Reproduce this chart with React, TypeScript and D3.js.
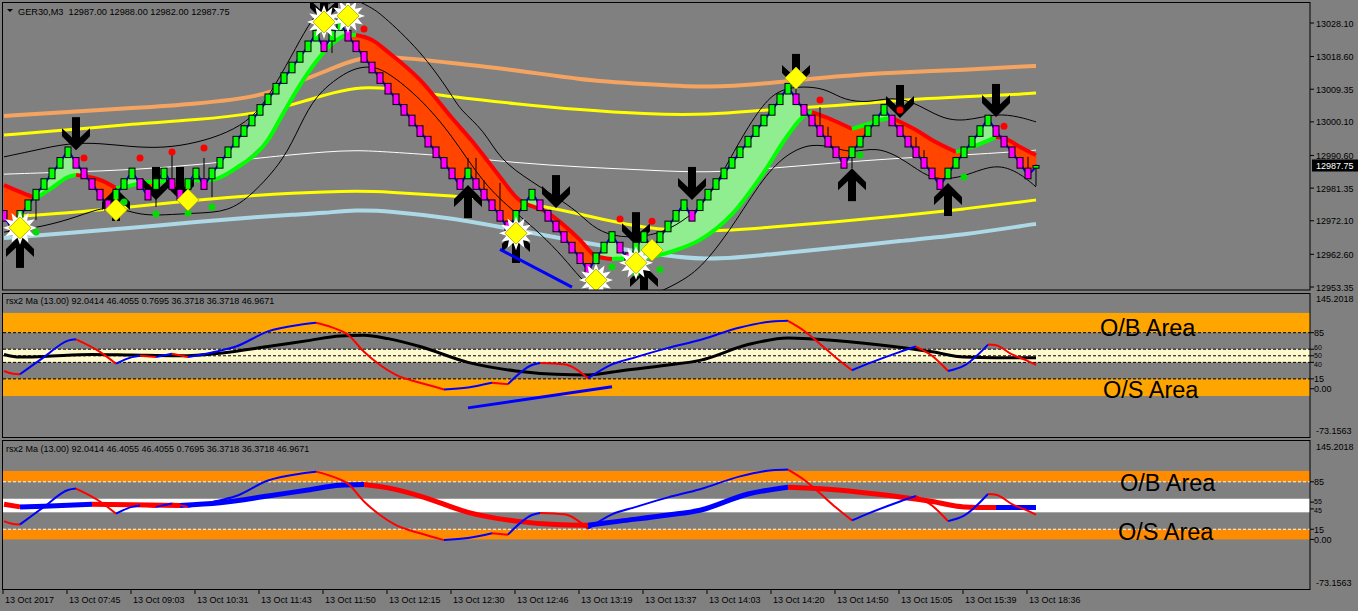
import React from "react";
import * as d3 from "d3";

// header / labels
const symbolHeader = "GER30,M3  12987.00 12988.00 12982.00 12987.75";
const rsxHeader1 = "rsx2 Ma (13.00) 92.0414 46.4055 0.7695 36.3718 36.3718 46.9671";
const rsxHeader2 = "rsx2 Ma (13.00) 92.0414 46.4055 46.4055 0.7695 36.3718 36.3718 46.9671";
const lastPrice = 12987.75;

// renko bricks (3 pt), bar 0..129
const opens = [
  12975, 12972, 12972, 12975, 12978, 12981, 12984, 12987, 12990, 12990,
  12987, 12984, 12981, 12978, 12978, 12981, 12984, 12984, 12981, 12981,
  12984, 12984, 12981, 12981, 12984, 12984, 12984, 12987, 12990, 12993,
  12996, 12999, 13002, 13005, 13008, 13011, 13014, 13017, 13020, 13023,
  13023, 13023, 13026, 13026, 13023, 13020, 13017, 13014, 13011, 13008,
  13005, 13002, 12999, 12996, 12993, 12990, 12987, 12984, 12984, 12984,
  12981, 12978, 12975, 12972, 12972, 12975, 12978, 12978, 12975, 12972,
  12969, 12966, 12963, 12960, 12960, 12963, 12966, 12966, 12963, 12963,
  12966, 12966, 12966, 12969, 12972, 12975, 12975, 12975, 12978, 12981,
  12984, 12987, 12990, 12993, 12996, 12999, 13002, 13005, 13008, 13008,
  13005, 13002, 12999, 12996, 12993, 12990, 12990, 12993, 12996, 12999,
  13002, 13002, 12999, 12996, 12993, 12990, 12987, 12984, 12984, 12987,
  12990, 12993, 12996, 12999, 12999, 12996, 12993, 12990, 12987, 12987,
];
const closes = [
  12972, 12969, 12975, 12978, 12981, 12984, 12987, 12990, 12993, 12987,
  12984, 12981, 12978, 12975, 12981, 12984, 12987, 12981, 12978, 12984,
  12987, 12981, 12978, 12984, 12987, 12981, 12987, 12990, 12993, 12996,
  12999, 13002, 13005, 13008, 13011, 13014, 13017, 13020, 13023, 13026,
  13020, 13026, 13029, 13023, 13020, 13017, 13014, 13011, 13008, 13005,
  13002, 12999, 12996, 12993, 12990, 12987, 12984, 12981, 12987, 12981,
  12978, 12975, 12972, 12969, 12975, 12978, 12981, 12975, 12972, 12969,
  12966, 12963, 12960, 12957, 12963, 12966, 12969, 12963, 12960, 12966,
  12969, 12963, 12969, 12972, 12975, 12978, 12972, 12978, 12981, 12984,
  12987, 12990, 12993, 12996, 12999, 13002, 13005, 13008, 13011, 13005,
  13002, 12999, 12996, 12993, 12990, 12987, 12993, 12996, 12999, 13002,
  13005, 12999, 12996, 12993, 12990, 12987, 12984, 12981, 12987, 12990,
  12993, 12996, 12999, 13002, 12996, 12993, 12990, 12987, 12984, 12987.75,
];
// [bar, low, high]
const wicks = [
  [2, 12968.9, 12975], [4, 12972.3, 12981], [14, 12973.2, 12981], [19, 12976.0, 12983.6],
  [21, 12981, 12991.3], [23, 12975.2, 12984], [25, 12981, 12989.9], [26, 12978.8, 12987],
  [41, 13019.6, 13026], [43, 13023, 13030.4], [58, 12984, 12989.9], [59, 12981, 12989.9],
  [60, 12978, 12983.6], [62, 12972, 12982.8], [74, 12953.4, 12963], [99, 13005, 13013.9],
  [102, 12996, 13004.3], [103, 12993, 12998.7], [106, 12987.0, 12993], [114, 12990, 12995.8],
  [115, 12987, 12992.1], [128, 12984, 12990.2], [129, 12982, 12988],
];

const timeLabels = [
  "13 Oct 2017", "13 Oct 07:45", "13 Oct 09:03", "13 Oct 10:31", "13 Oct 11:43", "13 Oct 11:50",
  "13 Oct 12:15", "13 Oct 12:30", "13 Oct 12:46", "13 Oct 13:19", "13 Oct 13:37", "13 Oct 14:03",
  "13 Oct 14:20", "13 Oct 14:50", "13 Oct 15:05", "13 Oct 15:39", "13 Oct 18:36",
];
const priceTicks = [13028.1, 13018.6, 13009.35, 13000.1, 12990.6, 12981.35, 12972.1, 12962.6, 12953.35];

// long moving averages / envelopes
const maBars = [0, 8, 16, 24, 32, 36, 40, 44, 48, 56, 64, 72, 80, 88, 96, 104, 112, 120, 128, 129];
const maSalmon = [13001.8, 13002.9, 13004.0, 13005.2, 13007.2, 13010.8, 13014.2, 13018.2, 13018.8, 13016.8, 13014.8, 13012.0, 13010.8, 13009.7, 13011.1, 13013.1, 13014.2, 13014.8, 13015.9, 13015.9];
const maYellowHi = [12996.4, 12997.8, 12999.5, 13000.6, 13002.6, 13004.9, 13007.7, 13010.0, 13009.7, 13007.2, 13005.2, 13003.5, 13002.3, 13002.0, 13003.7, 13004.6, 13006.3, 13007.2, 13008.0, 13008.3];
const maWhite = [12985.3, 12985.9, 12986.5, 12987.9, 12989.9, 12990.8, 12991.6, 12992.1, 12991.6, 12990.4, 12988.5, 12987.3, 12986.5, 12985.6, 12987.0, 12988.5, 12989.9, 12990.7, 12991.9, 12992.1];
const maYellowLo = [12973.2, 12974.3, 12976.0, 12978.0, 12979.4, 12979.9, 12980.3, 12980.5, 12980.3, 12979.1, 12978.0, 12974.0, 12969.8, 12968.9, 12970.3, 12971.8, 12973.5, 12975.4, 12977.7, 12978.0];
const maLightBlue = [12967.2, 12968.6, 12970.1, 12971.8, 12973.2, 12973.8, 12974.3, 12975.2, 12974.9, 12972.9, 12969.5, 12966.1, 12963.0, 12960.7, 12962.7, 12964.4, 12966.4, 12968.1, 12970.9, 12971.2];

// bands
const bandUpBars = [0, 4, 8, 12, 16, 20, 24, 28, 31, 33, 36, 38, 40, 43, 46, 47, 52, 56, 57, 60, 62, 66, 70, 72, 74, 77, 81, 84, 87, 89, 92, 95, 97, 99, 101, 103, 105, 108, 111, 114, 117, 120, 124, 127, 129];
const bandUpVals = [12990.2, 12992.1, 12994.1, 12994.1, 12993.0, 12992.7, 12994.1, 12997.0, 13001.2, 13006.9, 13019.0, 13027.5, 13033.5, 13036.0, 13032.3, 13030.9, 13020.5, 13007.7, 13003.5, 12997.8, 12989.3, 12983.1, 12977.4, 12974.0, 12969.5, 12967.2, 12967.8, 12970.6, 12975.7, 12982.2, 12995.0, 13005.7, 13009.1, 13010.0, 13010.0, 13009.1, 13006.3, 13005.5, 13007.2, 13005.5, 13001.2, 13000.1, 13002.6, 13001.5, 13000.1];
const bandLoBars = [0, 4, 8, 12, 14, 17, 20, 24, 28, 31, 35, 37, 39, 42, 44, 46, 48, 52, 56, 60, 64, 67, 70, 72, 74, 77, 81, 84, 87, 91, 95, 98, 101, 104, 106, 109, 112, 115, 117, 120, 124, 127, 129];
const bandLoVals = [12968.9, 12970.1, 12972.3, 12975.7, 12976.0, 12973.7, 12973.7, 12974.3, 12974.6, 12979.4, 12989.3, 12999.2, 13007.7, 13013.1, 13015.4, 13015.9, 13014.2, 13006.9, 12996.4, 12982.2, 12974.3, 12968.6, 12961.6, 12955.9, 12951.9, 12950.2, 12950.8, 12954.2, 12958.2, 12970.1, 12984.8, 12991.3, 12994.1, 12992.7, 12991.3, 12993.0, 12990.2, 12985.1, 12983.7, 12984.5, 12988.5, 12985.6, 12981.7];

// slow trend line (green up / red down)
const slowBars = [0, 2, 4, 6, 8, 9, 12, 14, 15, 18, 22, 26, 29, 33, 35, 37, 39, 41, 43, 44, 46, 48, 52, 56, 59, 62, 64, 68, 72, 74, 76, 80, 84, 87, 91, 95, 98, 100, 101, 103, 106, 108, 110, 111, 114, 116, 119, 121, 124, 125, 127, 129];
const slowVals = [12982.2, 12980.3, 12978.5, 12981.4, 12984.5, 12985.1, 12983.7, 12981.4, 12981.7, 12983.1, 12983.4, 12983.7, 12987.0, 12995.0, 13002.9, 13010.5, 13017.1, 13022.2, 13024.7, 13024.7, 13023.3, 13019.9, 13012.0, 13001.2, 12993.3, 12984.5, 12978.8, 12974.3, 12966.7, 12962.1, 12961.3, 12961.6, 12963.8, 12966.7, 12974.0, 12985.9, 12996.4, 13001.8, 13002.9, 13001.2, 12998.1, 12999.5, 13000.9, 13001.2, 12997.8, 12995.0, 12991.6, 12993.0, 12995.8, 12995.5, 12993.0, 12990.7];

// signals
const arrowsDown = [[9, 12992.1], [19, 12978.0], [22, 12978.0], [40, 13028.4], [69, 12975.7], [79, 12965.2], [86, 12978.0], [99, 13010.0], [112, 13001.2], [124, 13001.5]];
const arrowsUp = [[2, 12968.1], [14, 12981.4], [58, 12982.2], [64, 12969.5], [80, 12959.6], [106, 12987.0], [118, 12982.8]];
const diamonds = [[2, 12970.1, 1], [14, 12975.2, 0], [23, 12978.0, 0], [40, 13028.4, 1], [43, 13030.1, 1], [64, 12968.6, 1], [74, 12955.3, 1], [79, 12960.2, 1], [81, 12963.8, 0], [99, 13012.5, 0]];
const redDots = [[10, 12989.9], [17, 12989.9], [21, 12991.6], [25, 12992.7], [45, 13026.4], [77, 12972.6], [81, 12972.0], [102, 13006.3], [112, 13003.5], [125, 12998.9]];
const greenDots = [[4, 12968.9], [15, 12977.4], [19, 12974.0], [23, 12974.3], [26, 12976.0], [76, 12959.0], [79, 12957.3], [82, 12958.2], [107, 12990.7], [120, 12984.5]];
const trendMain = [[62, 12964.0], [71, 12953.3]];

// rsx oscillator
const fastBars = [0, 1, 2, 5, 8, 9, 12, 14, 16, 17, 19, 21, 23, 26, 29, 33, 37, 39, 41, 43, 45, 47, 49, 52, 55, 58, 61, 63, 66, 67, 70, 73, 76, 79, 83, 87, 92, 96, 98, 100, 102, 104, 106, 108, 112, 114, 116, 118, 120, 123, 124, 126, 128, 129];
const fastVals = [27, 23, 22, 48, 73, 75, 56, 38, 48, 50, 48, 53, 48, 55, 64, 87, 97, 100, 93, 82, 56, 36, 21, 9, -1, 2, 9, 7, 36, 39, 37, 16, 37, 48, 62, 74, 93, 102, 103, 88, 68, 47, 28, 38, 56, 64, 50, 27, 35, 67, 66, 52, 42, 36.4];
const sigBars = [0, 2, 5, 11, 16, 22, 27, 33, 38, 42, 45, 48, 52, 58, 64, 69, 73, 77, 83, 87, 93, 98, 103, 109, 116, 120, 124, 129];
const sigVals = [52, 48, 49, 52, 51, 50, 54, 64, 73, 80, 81, 76, 64, 40, 27, 22, 21, 27, 36, 43, 67, 77, 74, 67, 56, 48, 47, 47];
const trendRsx = [[58, -29], [76, 3]];
const rsxMin = -73.1563, rsxMax = 145.2018;

const BG = "#808080";
const FONT = "'Liberation Sans', Arial, sans-serif";

function starPath(cx: number, cy: number, r1: number, r2: number, n: number) {
  const pts = d3.range(n * 2).map((k) => {
    const a = (k * Math.PI) / n - Math.PI / 2;
    const r = k % 2 === 0 ? r1 : r2;
    return [cx + r * Math.cos(a), cy + r * Math.sin(a)];
  });
  return "M" + pts.join("L") + "Z";
}

// runs of same slope sign over sample points
function slopeRuns(bars: number[], vals: number[]) {
  const runs: { up: boolean; pts: [number, number][] }[] = [];
  for (let i = 1; i < bars.length; i++) {
    const up = vals[i] >= vals[i - 1];
    const last = runs[runs.length - 1];
    if (last && last.up === up) last.pts.push([bars[i], vals[i]]);
    else runs.push({ up, pts: [[bars[i - 1], vals[i - 1]], [bars[i], vals[i]]] });
  }
  return runs;
}

export default function App() {
  const x = d3.scaleLinear().domain([0, 129]).range([4, 1036]);
  const y = d3.scaleLinear().domain([12953.35, 13028.1]).range([287, 23]);
  const y1 = d3.scaleLinear().domain([rsxMin, rsxMax]).range([437, 293]);
  const y2 = d3.scaleLinear().domain([rsxMin, rsxMax]).range([589, 441]);

  const lineP = (ys: d3.ScaleLinear<number, number>, curve = d3.curveMonotoneX) =>
    d3.line<[number, number]>().x((d) => x(d[0])).y((d) => ys(d[1])).curve(curve);
  const zipped = (b: number[], v: number[]) => b.map((bb, i) => [bb, v[i]] as [number, number]);

  const slowAt = d3.scaleLinear().domain(slowBars).range(slowVals);
  const mids = closes.map((c, i) => (c + opens[i]) / 2);

  // ribbon between fast (mid) and slow line
  const ribbon: { pts: [number, number][]; up: boolean }[] = [];
  for (let i = 0; i < closes.length - 1; i++) {
    const f0 = mids[i], f1 = mids[i + 1], s0 = slowAt(i), s1 = slowAt(i + 1);
    const d0 = f0 - s0, d1 = f1 - s1;
    const X0 = x(i), X1 = x(i + 1);
    if (d0 * d1 >= 0) {
      ribbon.push({ up: d0 + d1 > 0, pts: [[X0, y(f0)], [X1, y(f1)], [X1, y(s1)], [X0, y(s0)]] });
    } else {
      const t = d0 / (d0 - d1);
      const Xc = X0 + t * (X1 - X0);
      const Yc = y(f0 + t * (f1 - f0));
      ribbon.push({ up: d0 > 0, pts: [[X0, y(f0)], [Xc, Yc], [X0, y(s0)]] });
      ribbon.push({ up: d1 > 0, pts: [[Xc, Yc], [X1, y(f1)], [X1, y(s1)]] });
    }
  }

  const maLines = [
    { vals: maLightBlue, color: "#ADD8E6", w: 4 },
    { vals: maYellowLo, color: "#FFFF00", w: 3 },
    { vals: maWhite, color: "#FFFFFF", w: 1 },
    { vals: maYellowHi, color: "#FFFF00", w: 3 },
    { vals: maSalmon, color: "#F4A460", w: 4 },
  ];

  const arrow = (bar: number, price: number, dir: number, key: string) => {
    const cx = x(bar), ty = y(price);
    const P = (dx: number, dy: number) => `${cx + dx},${ty + dir * dy}`;
    const stem = [P(-4, -33), P(4, -33), P(4, -9), P(-4, -9)].join(" ");
    const chev = [P(0, 0), P(-14, -14), P(-14, -22), P(0, -9), P(14, -22), P(14, -14)].join(" ");
    return (
      <g key={key} fill="#000">
        <polygon points={stem} />
        <polygon points={chev} />
      </g>
    );
  };

  const txt = (s: string, tx: number, ty: number, size = 9, fill = "#000", anchor = "start") => (
    <text x={tx} y={ty} fontSize={size} fill={fill} fontFamily={FONT} textAnchor={anchor} style={{ whiteSpace: "pre" }}>
      {s}
    </text>
  );

  const rsxLevels1 = [85, 60, 50, 40, 15];
  // [value, label, label y-nudge, font size]
  const rsxTicks1 = [[85, "85", 0, 9], [60, "60", -2, 7], [50, "50", 0, 7], [40, "40", 2, 7], [15, "15", 0, 9], [0, "0.00", 0, 9]] as [number, string, number, number][];
  const rsxTicks2 = [[85, "85", 0, 9], [55, "55", -1.2, 7], [45, "45", 1.2, 7], [15, "15", 0, 9], [0, "0.00", 0, 9]] as [number, string, number, number][];

  return (
    <svg width={1358} height={611} style={{ position: "absolute", left: 0, top: 0, display: "block" }}>
      <defs>
        <clipPath id="cMain"><rect x={3} y={3} width={1307} height={287} /></clipPath>
        <clipPath id="cP1"><rect x={3} y={294} width={1307} height={143} /></clipPath>
        <clipPath id="cP2"><rect x={3} y={441} width={1307} height={148} /></clipPath>
      </defs>
      <rect x={0} y={0} width={1358} height={611} fill={BG} />

      {/* ===== main price window ===== */}
      <g clipPath="url(#cMain)">
        {maLines.map((m, i) => (
          <path key={"ma" + i} d={lineP(y, d3.curveBasis)(zipped(maBars, m.vals)) || ""} fill="none" stroke={m.color} strokeWidth={m.w} />
        ))}
        {ribbon.map((r, i) => (
          <polygon key={"rb" + i} points={r.pts.map((p) => p.join(",")).join(" ")} fill={r.up ? "#90EE90" : "#FF4500"} stroke={r.up ? "#90EE90" : "#FF4500"} strokeWidth={0.6} />
        ))}
        {slopeRuns(slowBars, slowVals).map((r, i) => (
          <path key={"sl" + i} d={lineP(y)(r.pts) || ""} fill="none" stroke={r.up ? "#00FF00" : "#FF0000"} strokeWidth={4} />
        ))}
        <path d={lineP(y)(mids.map((m, i) => [i, m] as [number, number])) || ""} fill="none" stroke="#0000FF" strokeWidth={2} />
        <path d={lineP(y, d3.curveBasis)(zipped(bandUpBars, bandUpVals)) || ""} fill="none" stroke="#000" strokeWidth={1} />
        <path d={lineP(y, d3.curveBasis)(zipped(bandLoBars, bandLoVals)) || ""} fill="none" stroke="#000" strokeWidth={1} />
        {arrowsDown.map((a, i) => arrow(a[0], a[1], 1, "ad" + i))}
        {arrowsUp.map((a, i) => arrow(a[0], a[1], -1, "au" + i))}
        {wicks.map((w, i) => (
          <line key={"wk" + i} x1={x(w[0])} x2={x(w[0])} y1={y(w[1])} y2={y(w[2])} stroke="#000" strokeWidth={1} />
        ))}
        {closes.map((c, i) => {
          const o = opens[i];
          const top = y(Math.max(o, c)), bot = y(Math.min(o, c));
          return (
            <rect key={"cd" + i} x={x(i) - 3} y={top} width={6} height={Math.max(1, bot - top)}
              fill={c >= o ? "#00FF00" : "#FF00FF"} stroke="#000" strokeWidth={1} />
          );
        })}
        {redDots.map((d, i) => <circle key={"rd" + i} cx={x(d[0])} cy={y(d[1])} r={3.5} fill="#FF0000" />)}
        {greenDots.map((d, i) => <circle key={"gd" + i} cx={x(d[0])} cy={y(d[1])} r={3.5} fill="#00DD00" />)}
        {diamonds.map((d, i) => {
          const cx = x(d[0]), cy = y(d[1]);
          return (
            <g key={"dm" + i}>
              {d[2] ? <path d={starPath(cx, cy, 17, 10, 12)} fill="#FFFFFF" /> : null}
              <polygon points={`${cx},${cy - 11} ${cx + 11},${cy} ${cx},${cy + 11} ${cx - 11},${cy}`} fill="#FFFF00" stroke="#B8B800" strokeWidth={1} />
            </g>
          );
        })}
        <path d={lineP(y, d3.curveLinear)(trendMain as [number, number][]) || ""} stroke="#0000FF" strokeWidth={3} fill="none" />
      </g>
      <rect x={2.5} y={2.5} width={1307.5} height={287.5} fill="none" stroke="#000" />
      <polygon points="7,9 13,9 10,12" fill="#000" />
      {txt(symbolHeader, 18, 15, 9.2)}

      {/* price axis */}
      {priceTicks.map((p, i) => (
        <g key={"pt" + i}>
          <line x1={1310} x2={1314} y1={y(p)} y2={y(p)} stroke="#000" />
          {txt(p.toFixed(2), 1316, y(p) + 3.5)}
        </g>
      ))}
      <rect x={1312} y={y(lastPrice) - 6} width={46} height={12} fill="#000" />
      {txt(lastPrice.toFixed(2), 1316, y(lastPrice) + 3.5, 9, "#FFFFFF")}

      {/* ===== RSX window 1 ===== */}
      <g clipPath="url(#cP1)">
        <rect x={3} y={y1(115)} width={1307} height={y1(85) - y1(115)} fill="#FFA500" />
        <rect x={3} y={y1(15)} width={1307} height={y1(-11) - y1(15)} fill="#FFA500" />
        <rect x={3} y={y1(60)} width={1307} height={y1(40) - y1(60)} fill="#FFFACD" />
        {rsxLevels1.map((v) => (
          <line key={"l1" + v} x1={3} x2={1310} y1={y1(v)} y2={y1(v)} stroke="#000" strokeDasharray="3,2" />
        ))}
        <path d={lineP(y1)(zipped(sigBars, sigVals)) || ""} fill="none" stroke="#000" strokeWidth={3} />
        {slopeRuns(fastBars, fastVals).map((r, i) => (
          <path key={"f1" + i} d={lineP(y1)(r.pts) || ""} fill="none" stroke={r.up ? "#0000FF" : "#FF0000"} strokeWidth={2} />
        ))}
        <path d={lineP(y1, d3.curveLinear)(trendRsx as [number, number][]) || ""} stroke="#0000FF" strokeWidth={3} fill="none" />
        {txt("O/B Area", 1100, y1(85) + 3.5, 23.5)}
        {txt("O/S Area", 1103, y1(0) + 9, 23.5)}
      </g>
      <rect x={2.5} y={293.5} width={1307.5} height={144} fill="none" stroke="#000" />
      {txt(rsxHeader1, 6, 304)}
      {txt(rsx2Label(rsxMax), 1316, 302)}
      {txt(rsx2Label(rsxMin), 1316, 434)}
      {rsxTicks1.map(([v, s, dy, fs]) => (
        <g key={"t1" + v}>
          <line x1={1310} x2={1314} y1={y1(v)} y2={y1(v)} stroke="#000" />
          {txt(s, 1314, y1(v) + fs * 0.38 + dy, fs)}
        </g>
      ))}

      {/* ===== RSX window 2 ===== */}
      <g clipPath="url(#cP2)">
        <rect x={3} y={y2(101)} width={1307} height={y2(85) - y2(101)} fill="#FF8C00" />
        <rect x={3} y={y2(15)} width={1307} height={y2(0) - y2(15)} fill="#FF8C00" />
        <rect x={3} y={y2(60)} width={1307} height={y2(40) - y2(60)} fill="#FFFFFF" />
        {[85, 15].map((v) => (
          <line key={"l2" + v} x1={3} x2={1310} y1={y2(v)} y2={y2(v)} stroke="#FFFFFF" strokeDasharray="3,2" />
        ))}
        {slopeRuns(sigBars, sigVals).map((r, i) => (
          <path key={"s2" + i} d={lineP(y2)(r.pts) || ""} fill="none" stroke={r.up ? "#0000FF" : "#FF0000"} strokeWidth={5} />
        ))}
        {slopeRuns(fastBars, fastVals).map((r, i) => (
          <path key={"f2" + i} d={lineP(y2)(r.pts) || ""} fill="none" stroke={r.up ? "#0000FF" : "#FF0000"} strokeWidth={2} />
        ))}
        {txt("O/B Area", 1120, y2(85) + 9, 23.5)}
        {txt("O/S Area", 1118, y2(0) + 1, 23.5)}
      </g>
      <rect x={2.5} y={440.5} width={1307.5} height={149} fill="none" stroke="#000" />
      {txt(rsxHeader2, 6, 452)}
      {txt(rsx2Label(rsxMax), 1316, 450)}
      {txt(rsx2Label(rsxMin), 1316, 586)}
      {rsxTicks2.map(([v, s, dy, fs]) => (
        <g key={"t2" + v}>
          <line x1={1310} x2={1314} y1={y2(v)} y2={y2(v)} stroke="#000" />
          {txt(s, 1314, y2(v) + fs * 0.38 + dy, fs)}
        </g>
      ))}

      {/* ===== time axis ===== */}
      {timeLabels.map((s, k) => {
        const tx = x(k * 8) - 1;
        return (
          <g key={"tx" + k}>
            <line x1={tx} x2={tx} y1={589} y2={594} stroke="#000" />
            {txt(s, tx + 2, 603)}
          </g>
        );
      })}
    </svg>
  );
}

function rsx2Label(v: number) {
  return v.toFixed(4);
}
